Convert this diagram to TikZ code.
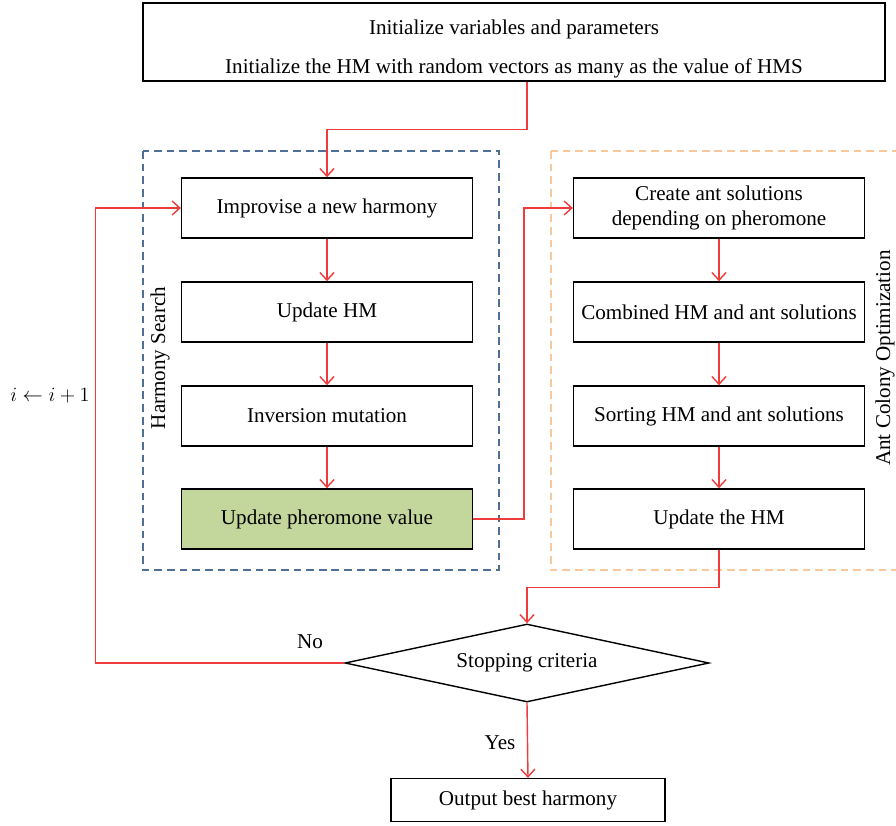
\documentclass[tikz,border=0pt]{standalone}
\usepackage{fontspec}
\setmainfont{Liberation Serif}
\usetikzlibrary{shapes.geometric,arrows.meta}
\definecolor{flowred}{HTML}{EE3B3B}
\definecolor{harmonyblue}{HTML}{4F6F98}
\definecolor{colonyorange}{HTML}{F6C89B}
\definecolor{pheromonegreen}{HTML}{C3D69B}

\begin{document}
\begin{tikzpicture}[x=0.025cm, y=-0.025cm,
    every node/.style={font=\fontsize{15}{18}\selectfont},
    stepbox/.style={draw, line width=1pt, minimum width=7.27cm, minimum height=1.5cm, inner sep=0pt, align=center},
    flow/.style={draw=flowred, line width=1pt, -{Straight Barb[length=5.5pt,width=10pt]}},
    group/.style={line width=0.9pt, dash pattern=on 5.5pt off 3.5pt}]
        \useasboundingbox (0,0) rectangle (896,825);

        % Initialization
        \node[draw, line width=1pt, minimum width=18.55cm, minimum height=1.95cm, inner sep=0pt, align=center] (init) at (514,42)
            {\rule{0pt}{20pt}Initialize variables and parameters\\[10pt]Initialize the HM with random vectors as many as the value of HMS};

        % Harmony search group
        \draw[group, harmonyblue] (143,151) rectangle (499,570);
        \node[rotate=90] (hslabel) at (160,358) {Harmony Search};
        \node[stepbox] (improve) at (327,208) {Improvise a new harmony};
        \node[stepbox] (updhm) at (327,312) {Update HM};
        \node[stepbox] (inversion) at (327,416) {Inversion mutation};
        \node[stepbox, fill=pheromonegreen] (pheromone) at (327,519) {Update pheromone value};

        % Ant colony group
        \draw[group, colonyorange] (551,151) rectangle (920,570);
        \node[rotate=90] (acolabel) at (885,358) {Ant Colony Optimization};
        \node[stepbox] (create) at (719,208) {Create ant solutions\\depending on pheromone};
        \node[stepbox] (combined) at (719,312) {Combined HM and ant solutions};
        \node[stepbox] (sorting) at (719,416) {Sorting HM and ant solutions};
        \node[stepbox] (updatehm) at (719,519) {Update the HM};

        % Stopping and output
        \node[draw, diamond, line width=1pt, aspect=4.7, inner sep=0pt, minimum width=9.1cm, minimum height=1.95cm] (stop) at (527,663) {Stopping criteria};
        \node[draw, line width=1pt, minimum width=6.85cm, minimum height=1.07cm, inner sep=0pt] (output) at (528,800) {Output best harmony};

        % Labels
        \node (no) at (310,642) {No};
        \node (yes) at (500,743) {Yes};
        \node (incr) at (50,396) {$i \leftarrow i+1$};

        % Connectors
        \draw[flow] (init.south -| stop.north) -- ++(0,48) -| (improve.north);
        \draw[flow] (improve) -- (updhm);
        \draw[flow] (updhm) -- (inversion);
        \draw[flow] (inversion) -- (pheromone);
        \draw[flow] (pheromone.east) -- ++(51,0) |- (create.west);
        \draw[flow] (create) -- (combined);
        \draw[flow] (combined) -- (sorting);
        \draw[flow] (sorting) -- (updatehm);
        \draw[flow] (updatehm.south) -- ++(0,38) -| (stop.north);
        \draw[flow] (stop.south) -- (output.north);
        \draw[flow] (stop.west) -- ++(-249,0) |- (improve.west);
      \end{tikzpicture}
\end{document}
